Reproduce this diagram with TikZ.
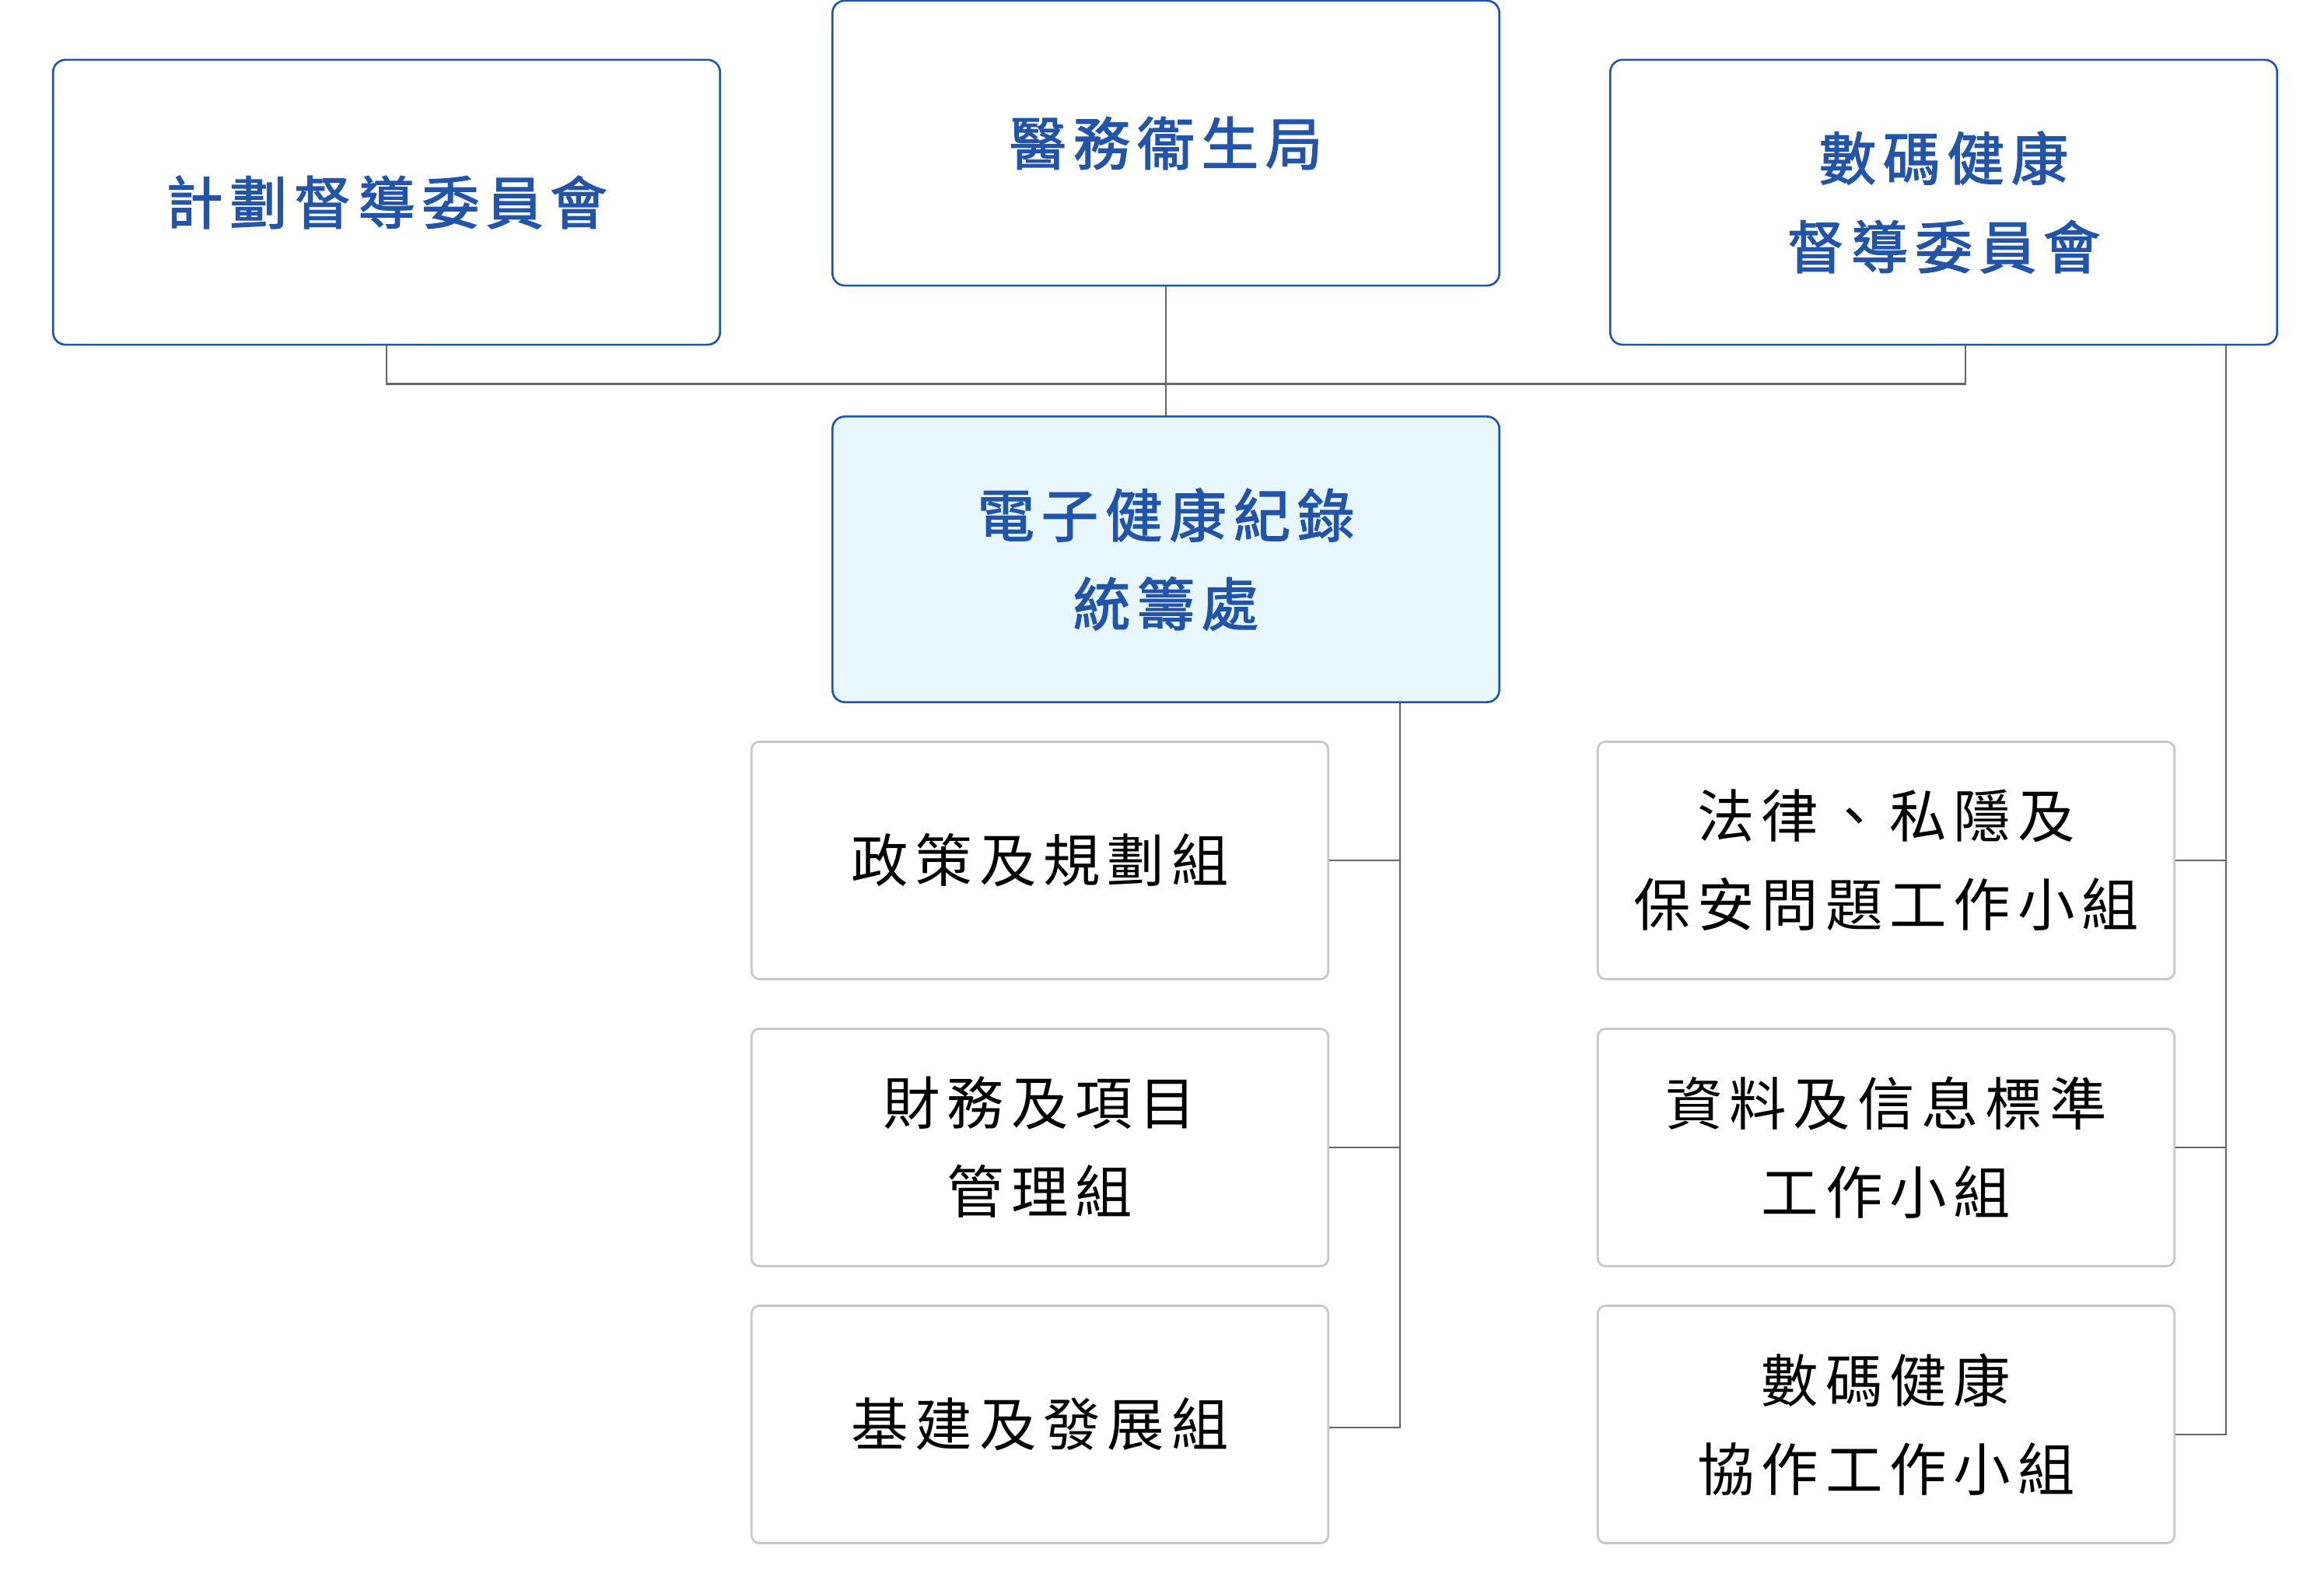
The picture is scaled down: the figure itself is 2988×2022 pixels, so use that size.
\documentclass[tikz,border=0pt]{standalone}
\usepackage{fontspec}
\usetikzlibrary{calc}
\newfontfamily\cjkfont[LetterSpace=12]{Noto Sans CJK TC}
\newfontfamily\cjkheavy[LetterSpace=12,FakeBold=2]{Noto Sans CJK TC}
\definecolor{ehrblue}{RGB}{34,85,170}
\definecolor{ehrpale}{RGB}{232,246,254}
\definecolor{ehrgrey}{RGB}{200,200,200}
\definecolor{ehrline}{RGB}{102,102,102}

\begin{document}
\begin{tikzpicture}[x=0.01cm,y=-0.01cm,
  board/.style={draw=ehrblue,fill=white,line width=0.75pt,rounded corners=0.16cm,
    minimum width=8.57cm,minimum height=3.66cm,inner sep=0pt,text=ehrblue,align=center,
    font=\cjkheavy\fontsize{20.9}{32.4}\selectfont},
  team/.style={draw=ehrgrey,fill=white,line width=0.8pt,rounded corners=0.1cm,
    minimum width=7.41cm,minimum height=3.05cm,inner sep=0pt,align=center,
    font=\cjkfont\fontsize{20.9}{32.4}\selectfont},
  link/.style={ehrline,line width=0.7pt}]
  \useasboundingbox (0,0) rectangle (2988,2022);

  % top row
  \node[board] (plan) at (497,260) {計劃督導委員會};
  \node[board] (bureau) at (1499,184) {醫務衞生局};
  \node[board] (digital) at (2499,260) {數碼健康\\督導委員會};

  % office
  \node[board,fill=ehrpale,minimum height=3.67cm] (ehr) at (1499,719) {電子健康紀錄\\統籌處};

  % groups
  \node[team] (policy) at (1337,1106) {政策及規劃組};
  \node[team] (finance) at (1337,1475) {財務及項目\\管理組};
  \node[team] (infra) at (1337,1831) {基建及發展組};

  % working groups
  \node[team] (legal) at (2425,1106) {法律、私隱及\\保安問題工作小組};
  \node[team] (data) at (2425,1475) {資料及信息標準\\工作小組};
  \node[team] (collab) at (2425,1831) {數碼健康\\協作工作小組};

  % links
  \coordinate (cbus) at ([xshift=0.28cm]digital.south);
  \coordinate (lbus) at ([xshift=-1.29cm]ehr.south east);
  \coordinate (rbus) at ([xshift=-0.67cm]digital.south east);

  \draw[link] (plan.south) -- ++(0,49) -| (cbus);
  \draw[link] (bureau.south) -- (ehr.north);
  \draw[link] (lbus) |- ([yshift=-0.04cm]infra.east);
  \draw[link] (policy.east) -- (policy.east -| lbus);
  \draw[link] (finance.east) -- (finance.east -| lbus);
  \draw[link] (rbus) |- ([yshift=-0.13cm]collab.east);
  \draw[link] (legal.east) -- (legal.east -| rbus);
  \draw[link] (data.east) -- (data.east -| rbus);
\end{tikzpicture}
\end{document}
